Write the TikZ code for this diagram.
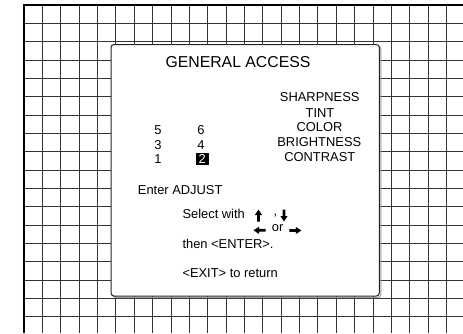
\documentclass[tikz,border=0pt]{standalone}
\usepackage{fontspec}
\setmainfont{Liberation Sans}
\begin{document}
\begin{tikzpicture}[x=1pt,y=-1pt,
  gridline/.style={black!80,line width=0.9pt},
  frameline/.style={black,line width=1.6pt},
  panel/.style={draw=black!85,line width=1pt,fill=white,rounded corners=3pt},
  menutxt/.style={font=\fontsize{12.9}{14}\selectfont,inner sep=0pt},
  titletxt/.style={font=\fontsize{15.8}{17}\selectfont,inner sep=0pt},
  hilite/.style={fill=black,text=white,minimum width=12.7pt,minimum height=12pt,inner sep=0pt,font=\fontsize{12.9}{14}\selectfont},
  blockarr/.pic={\fill[black] (-6,-1.4) -- (0.5,-1.4) -- (0.5,-3.6) -- (6,0) -- (0.5,3.6) -- (0.5,1.4) -- (-6,1.4) -- cycle;}
]
\useasboundingbox (0,0) rectangle (463,333);
% grid
\foreach \k in {0,...,23} {\draw[gridline] ({24+18.37*\k},5) -- ({24+18.37*\k},333);}
\foreach \k in {0,...,17} {\draw[gridline] (24,{5+18.33*\k}) -- (463,{5+18.33*\k});}
\draw[frameline] (24,333) -- (24,5) -- (463,5);
% panel
\draw[black!40,line width=1pt,rounded corners=3pt] (112.5,46) rectangle (380.8,297.5);
\path[panel] (111,44.5) rectangle (379.3,296);
% title
\node[titletxt] (title) at (238,62) {GENERAL ACCESS};
% menu items
\node[menutxt] (sharp) at (319.7,96.7) {SHARPNESS};
\node[menutxt] (tint) at (320,112.7) {TINT};
\node[menutxt] (color) at (319.5,126.7) {COLOR};
\node[menutxt] (bright) at (319.3,141.7) {BRIGHTNESS};
\node[menutxt] (contr) at (319.8,157.3) {CONTRAST};
% numbers
\node[menutxt] (n5) at (158,129.7) {5};
\node[menutxt] (n6) at (201,129.7) {6};
\node[menutxt] (n3) at (158,144.7) {3};
\node[menutxt] (n4) at (201,144.7) {4};
\node[menutxt] (n1) at (158,159.3) {1};
\node[hilite] (n2) at (202.3,159.3) {2};
% instructions
\node[menutxt,anchor=west] (enter) at (137.7,189.7) {Enter ADJUST};
\node[menutxt,anchor=west] (select) at (182.3,213.7) {Select with};
\node[menutxt] (comma) at (275.5,215.5) {,};
\node[menutxt] (orword) at (277.7,228.5) {or};
\node[menutxt,anchor=west] (thenline) at (182.3,243.7) {then \textless ENTER\textgreater.};
\node[menutxt,anchor=west] (exit) at (182.3,273.3) {\textless EXIT\textgreater{} to return};
% arrow keys
\pic[rotate=90] at (258.5,215.5) {blockarr};
\pic[rotate=-90] at (284,215.5) {blockarr};
\pic[rotate=180] at (259.5,230.3) {blockarr};
\pic at (295.3,230.5) {blockarr};
\end{tikzpicture}
\end{document}
